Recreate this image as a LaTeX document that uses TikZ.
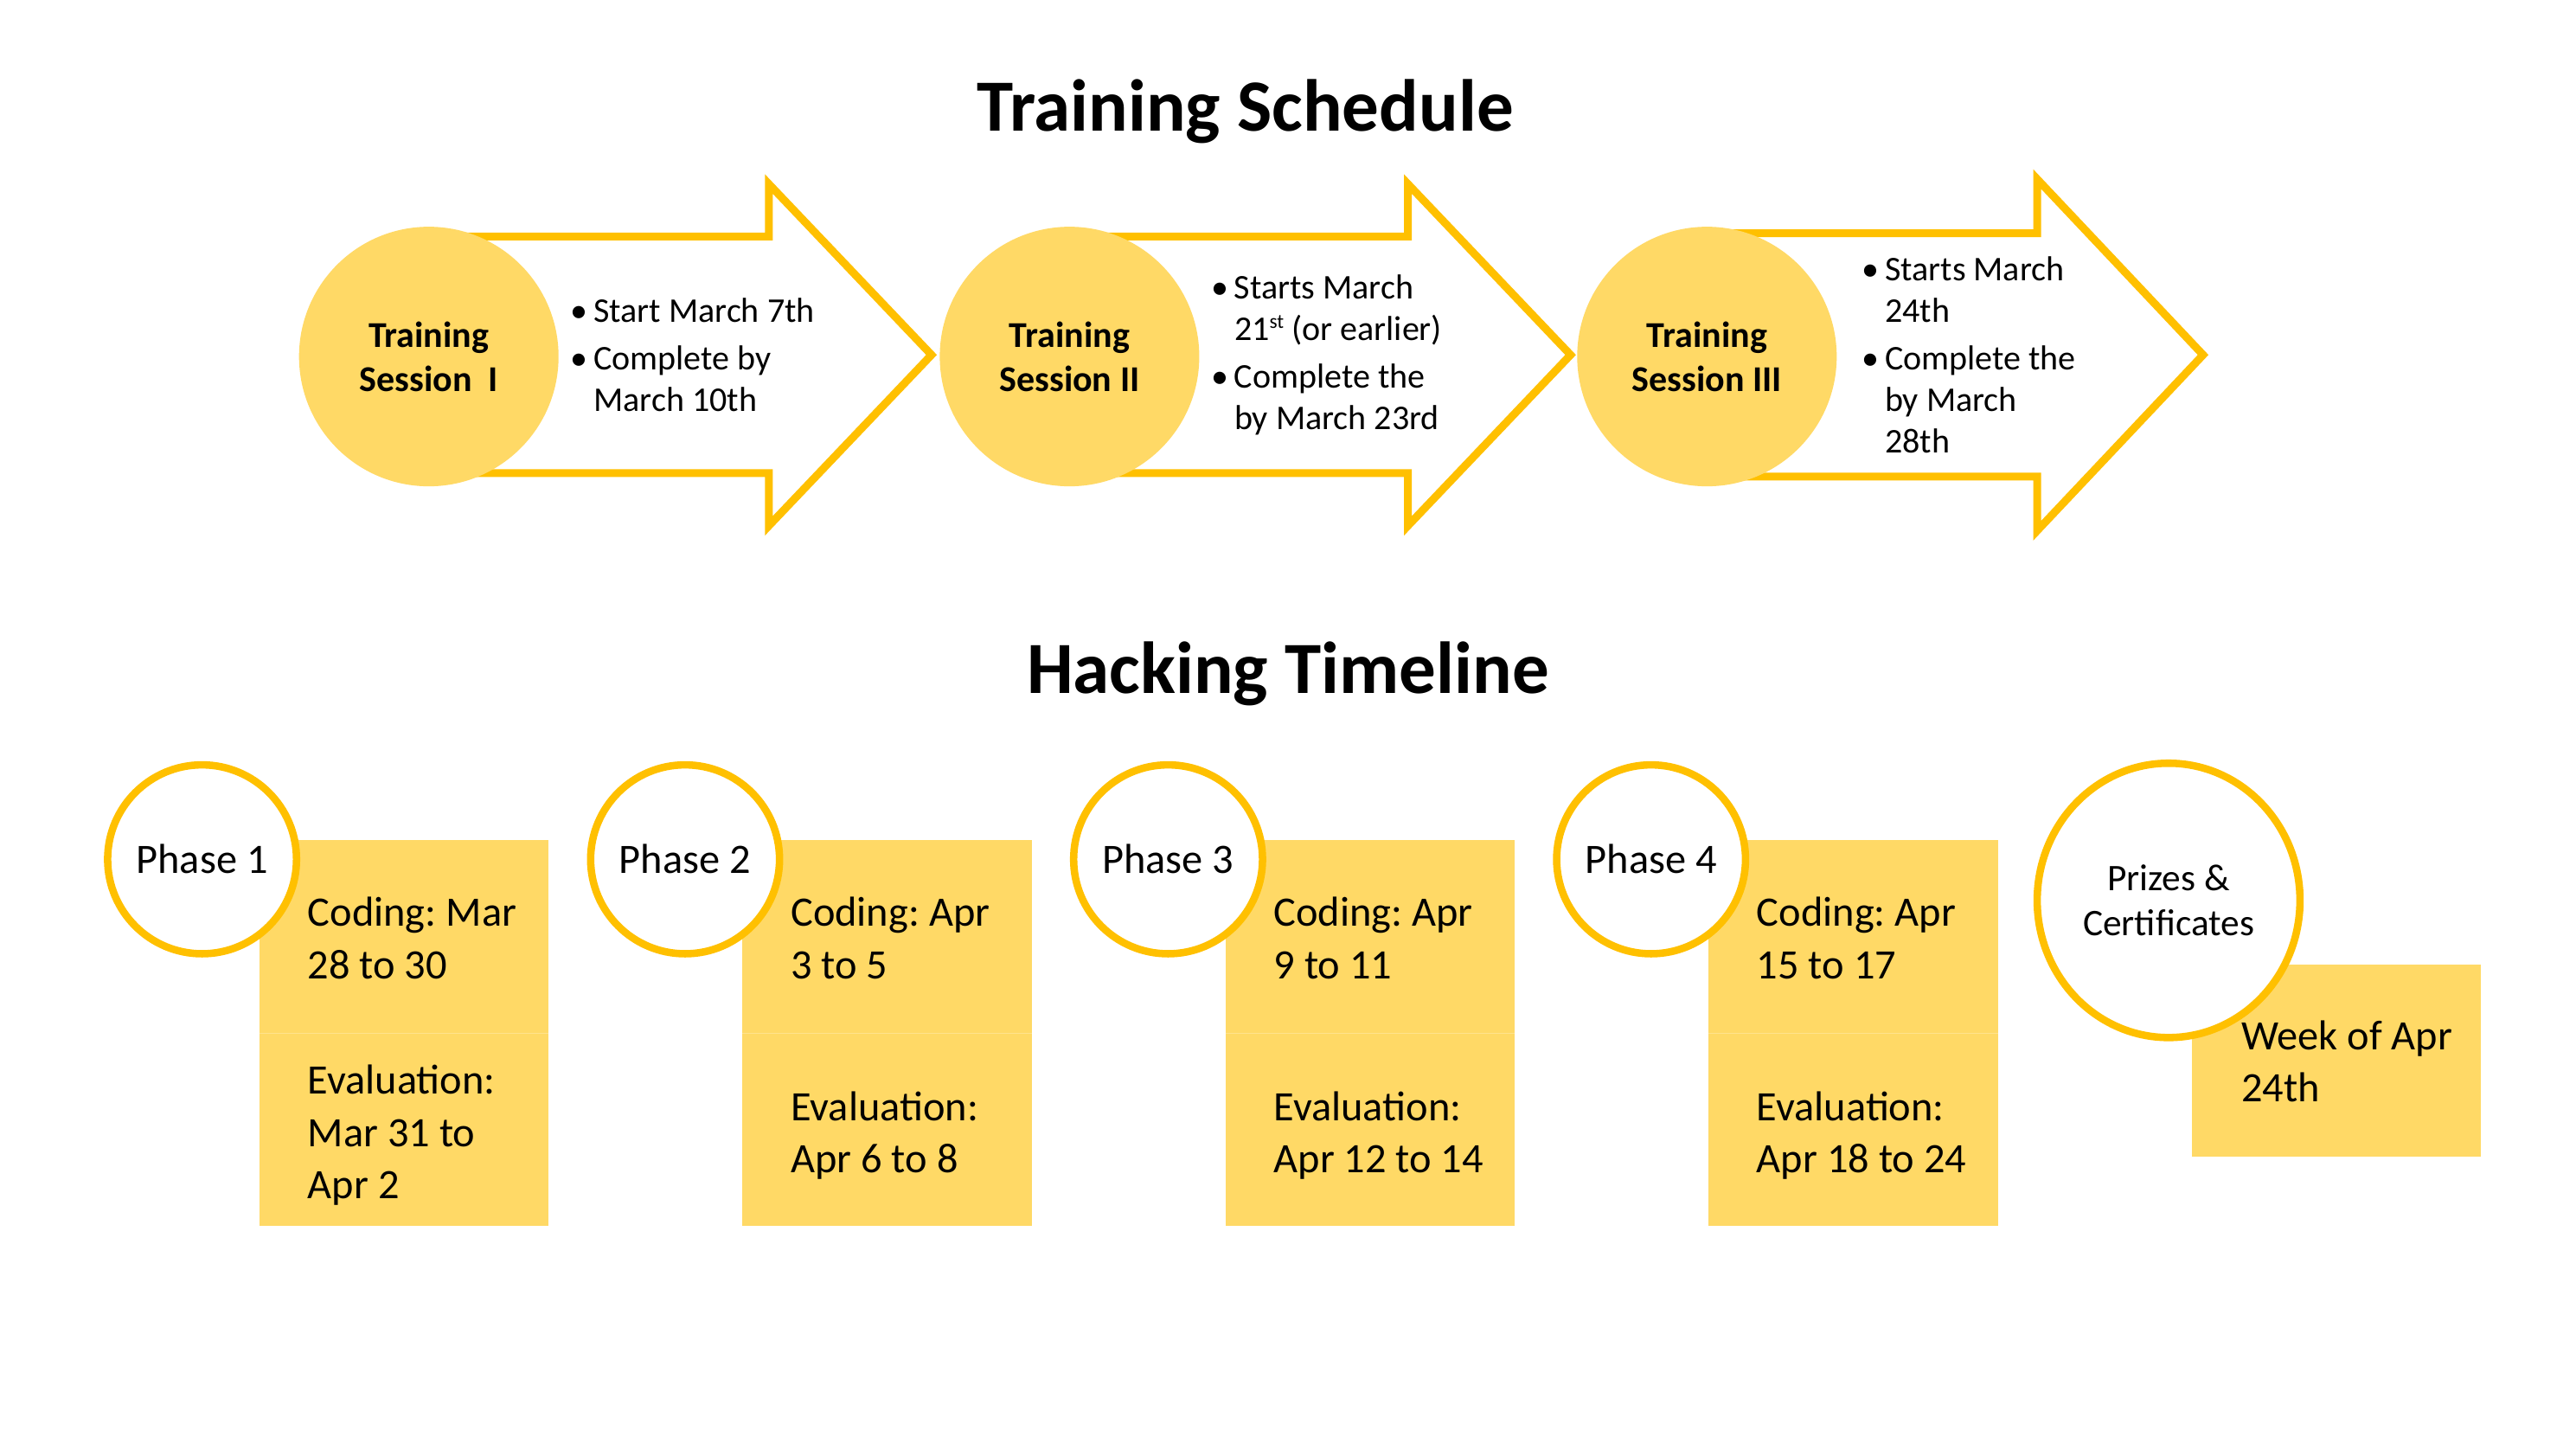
\documentclass[tikz,border=0pt]{standalone}
\usepackage{fontspec}
\setmainfont{Carlito}
\usepackage{tikz}
\usepackage{xcolor}
\usetikzlibrary{positioning,shapes.geometric}
\frenchspacing

\definecolor{gold}{HTML}{FFC000}
\definecolor{lightgold}{HTML}{FFD966}
\newcommand{\bul}{\makebox[0.28cm][l]{\textbullet}}
\newcommand{\ind}{\hspace*{0.28cm}}
\newcommand{\supst}{\raisebox{0.75ex}{\fontsize{7}{7}\selectfont st}}

\tikzset{
    title/.style={font=\fontsize{25.5}{30}\selectfont\bfseries},
    session/.style={circle, fill=lightgold, minimum size=3.16cm, inner sep=0pt, align=center, font=\fontsize{12.6}{15.3}\selectfont\bfseries},
    bigarrow/.style={draw=gold, fill=white, line width=0.095cm},
    notes/.style={anchor=west, align=left, inner sep=0pt, font=\fontsize{12}{14.5}\selectfont},
    phase/.style={circle, draw=gold, fill=white, line width=0.09cm, minimum size=2.3cm, inner sep=0pt, align=center, font=\fontsize{14.5}{18}\selectfont},
    prize/.style={ellipse, draw=gold, fill=white, line width=0.09cm, minimum width=3.2cm, minimum height=3.34cm, inner sep=0pt, align=center, font=\fontsize{13}{15.5}\selectfont},
    cell/.style={fill=lightgold},
    divider/.style={draw=lightgold!75!white, line width=0.3pt},
    celltext/.style={anchor=west, align=left, inner sep=0pt, font=\fontsize{14.5}{18.1}\selectfont}
}

\begin{document}
\begin{tikzpicture}[x=0.02cm, y=-0.02cm]
    \fill[white] (0,0) rectangle (1568,878);

    % Titles
    \node[title] (schedule) at (758,68) {Training Schedule};
    \node[title] (hacking) at (784,410) {Hacking Timeline};

    % First session - arrow and circle
    \draw[bigarrow] (261,144) -- (468,144) -- (468,112) -- (567,216) -- (468,320) -- (468,288) -- (261,288) -- cycle;
    \node[session] (s1) at (261,217) {Training\\Session\ \ I};
    \node[notes] (n1) at (347,216) {\bul Start March 7th\\[1.9pt] \bul Complete by\\ \ind March 10th};

    % Second session
    \draw[bigarrow] (651,144) -- (857,144) -- (857,112) -- (956,216) -- (857,320) -- (857,288) -- (651,288) -- cycle;
    \node[session] (s2) at (651,217) {Training\\Session II};
    \node[notes] (n2) at (737,216) {\bul Starts March\\ \ind 21\supst{} (or earlier)\\[1.9pt] \bul Complete the\\ \ind by March 23rd};

    % Third session - slightly larger arrow
    \draw[bigarrow] (1039,142) -- (1240,142) -- (1240,109) -- (1341,216) -- (1240,323) -- (1240,290) -- (1039,290) -- cycle;
    \node[session] (s3) at (1039,217) {Training\\Session III};
    \node[notes] (n3) at (1133,216) {\bul Starts March\\ \ind 24th\\[1.9pt] \bul Complete the\\ \ind by March\\ \ind 28th};

    % Phase 1
    \fill[cell] (158,511) rectangle (334,746);
    \draw[divider] (158,629) -- (334,629);
    \node[celltext] (c1) at (187,571) {Coding: Mar\\28 to 30};
    \node[celltext] (e1) at (187,691) {Evaluation:\\Mar 31 to\\Apr 2};
    \node[phase] (p1) at (123,523) {Phase 1};

    % Phase 2
    \fill[cell] (452,511) rectangle (628,746);
    \draw[divider] (452,629) -- (628,629);
    \node[celltext] (c2) at (481,571) {Coding: Apr\\3 to 5};
    \node[celltext] (e2) at (481,691) {Evaluation:\\Apr 6 to 8};
    \node[phase] (p2) at (417,523) {Phase 2};

    % Phase 3
    \fill[cell] (746,511) rectangle (922,746);
    \draw[divider] (746,629) -- (922,629);
    \node[celltext] (c3) at (775,571) {Coding: Apr\\9 to 11};
    \node[celltext] (e3) at (775,691) {Evaluation:\\Apr 12 to 14};
    \node[phase] (p3) at (711,523) {Phase 3};

    % Phase 4
    \fill[cell] (1040,511) rectangle (1216,746);
    \draw[divider] (1040,629) -- (1216,629);
    \node[celltext] (c4) at (1069,571) {Coding: Apr\\15 to 17};
    \node[celltext] (e4) at (1069,691) {Evaluation:\\Apr 18 to 24};
    \node[phase] (p4) at (1005,523) {Phase 4};

    % Prizes
    \fill[cell] (1334,587) rectangle (1510,704);
    \node[celltext] (w5) at (1364,646) {Week of Apr\\24th};
    \node[prize] (p5) at (1320,548) {Prizes \&\\Certificates};
\end{tikzpicture}
\end{document}
